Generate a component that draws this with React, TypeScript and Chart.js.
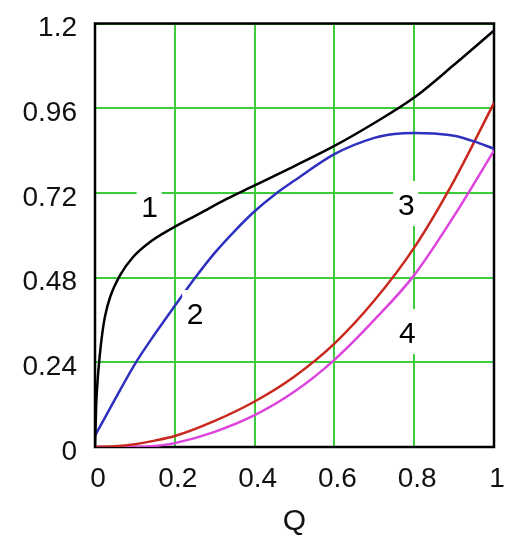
import React, { useEffect, useRef } from "react";
import { Chart, registerables } from "chart.js";

Chart.register(...registerables);

const xTicks = [0, 0.2, 0.4, 0.6, 0.8, 1];
const xTickLabels = ["0", "0.2", "0.4", "0.6", "0.8", "1"];
const yTicks = [0, 0.24, 0.48, 0.72, 0.96, 1.2];
const yTickLabels = ["0", "0.24", "0.48", "0.72", "0.96", "1.2"];
const xTitle = "Q";

// Curve 1 (black)
const q1 = [0, 0.003, 0.006, 0.012, 0.018, 0.025, 0.038, 0.063, 0.096, 0.138, 0.192, 0.263, 0.33, 0.4, 0.5, 0.6, 0.7, 0.8, 0.9, 1];
const v1 = [0, 0.12, 0.18, 0.26, 0.32, 0.37, 0.425, 0.487, 0.539, 0.581, 0.619, 0.662, 0.703, 0.741, 0.796, 0.853, 0.918, 0.99, 1.083, 1.18];
// Curve 2 (blue)
const q2 = [0, 0.05, 0.1, 0.15, 0.2, 0.25, 0.3, 0.35, 0.4, 0.45, 0.5, 0.6, 0.7, 0.75, 0.8, 0.85, 0.9, 0.95, 1];
const v2 = [0.032, 0.135, 0.235, 0.32, 0.4, 0.478, 0.55, 0.612, 0.668, 0.715, 0.755, 0.83, 0.876, 0.887, 0.89, 0.888, 0.882, 0.866, 0.845];
// Curve 3 (red)
const q3 = [0, 0.05, 0.1, 0.15, 0.2, 0.3, 0.4, 0.5, 0.6, 0.7, 0.8, 0.9, 1];
const v3 = [0, 0.002, 0.008, 0.018, 0.031, 0.074, 0.129, 0.2, 0.293, 0.415, 0.565, 0.755, 0.975];
// Curve 4 (magenta)
const q4 = [0, 0.1, 0.15, 0.2, 0.3, 0.4, 0.5, 0.6, 0.7, 0.8, 0.9, 1];
const v4 = [0, 0, 0.003, 0.011, 0.043, 0.09, 0.157, 0.247, 0.36, 0.487, 0.655, 0.84];

const curveLabels = ["1", "2", "3", "4"];
const labelQ = [0.137, 0.251, 0.78, 0.783];
const labelV = [0.676, 0.371, 0.68, 0.317];

const FONT = "'Liberation Sans', Arial, sans-serif";

function pts(xs: number[], ys: number[]) {
  return xs.map((x, i) => ({ x, y: ys[i] }));
}

export default function App() {
  const ref = useRef<HTMLCanvasElement | null>(null);

  useEffect(() => {
    if (!ref.current) return;

    const framePlugin = {
      id: "frame",
      beforeDatasetsDraw(chart: any) {
        const { ctx, chartArea } = chart;
        ctx.save();
        ctx.strokeStyle = "#000";
        ctx.lineWidth = 2.5;
        ctx.strokeRect(chartArea.left, chartArea.top, chartArea.right - chartArea.left, chartArea.bottom - chartArea.top);
        ctx.restore();
      },
    };

    const labelPlugin = {
      id: "curveLabels",
      afterDatasetsDraw(chart: any) {
        const { ctx } = chart;
        const xs = chart.scales.x;
        const ys = chart.scales.y;
        ctx.save();
        ctx.font = `30px ${FONT}`;
        ctx.textAlign = "center";
        ctx.textBaseline = "middle";
        curveLabels.forEach((t, i) => {
          const px = xs.getPixelForValue(labelQ[i]);
          const py = ys.getPixelForValue(labelV[i]);
          ctx.fillStyle = "#fff";
          ctx.fillRect(px - 13, py - 26, 25, 45);
          ctx.fillStyle = "#000";
          ctx.fillText(t, px, py);
        });
        ctx.restore();
      },
    };

    const common = {
      showLine: true,
      pointRadius: 0,
      borderWidth: 2.5,
      cubicInterpolationMode: "monotone" as const,
      fill: false,
    };

    const chart = new Chart(ref.current, {
      type: "scatter",
      data: {
        datasets: [
          { ...common, label: "1", data: pts(q1, v1), borderColor: "#000000" },
          { ...common, label: "2", data: pts(q2, v2), borderColor: "#3030c0" },
          { ...common, label: "3", data: pts(q3, v3), borderColor: "#c8281e" },
          { ...common, label: "4", data: pts(q4, v4), borderColor: "#dd44dd" },
        ],
      },
      options: {
        animation: false,
        responsive: false,
        layout: { padding: { left: 0, top: 23.5, right: 38, bottom: 0 } },
        plugins: { legend: { display: false }, tooltip: { enabled: false } },
        scales: {
          x: {
            type: "linear",
            min: 0,
            max: 1,
            afterBuildTicks: (s: any) => {
              s.ticks = xTicks.map((v) => ({ value: v }));
            },
            afterFit: (s: any) => {
              s.height = 109;
              s.paddingLeft = 0;
              s.paddingRight = 0;
            },
            grid: { color: "#3ccc3c", lineWidth: 2, drawTicks: false },
            border: { display: false },
            ticks: {
              autoSkip: false,
              maxRotation: 0,
              padding: 15,
              labelOffset: 3,
              color: "#111",
              font: { family: FONT, size: 28 },
              callback: (_v: any, i: number) => xTickLabels[i],
            },
            title: {
              display: true,
              text: xTitle,
              color: "#111",
              font: { family: FONT, size: 30 },
              padding: { top: 0, bottom: 16 },
            },
          },
          y: {
            type: "linear",
            min: 0,
            max: 1.2,
            afterBuildTicks: (s: any) => {
              s.ticks = yTicks.map((v) => ({ value: v }));
            },
            afterFit: (s: any) => {
              s.width = 95;
              s.paddingTop = 0;
              s.paddingBottom = 0;
            },
            grid: { color: "#3ccc3c", lineWidth: 2, drawTicks: false },
            border: { display: false },
            ticks: {
              autoSkip: false,
              padding: 18,
              labelOffset: 5,
              color: "#111",
              font: { family: FONT, size: 28 },
              callback: (_v: any, i: number) => yTickLabels[i],
            },
          },
        },
      },
      plugins: [framePlugin, labelPlugin],
    } as any);

    return () => chart.destroy();
  }, []);

  return (
    <div style={{ position: "absolute", left: 0, top: 0, width: 532, height: 556, background: "#fff" }}>
      <canvas ref={ref} width={532} height={556} style={{ display: "block" }} />
    </div>
  );
}
